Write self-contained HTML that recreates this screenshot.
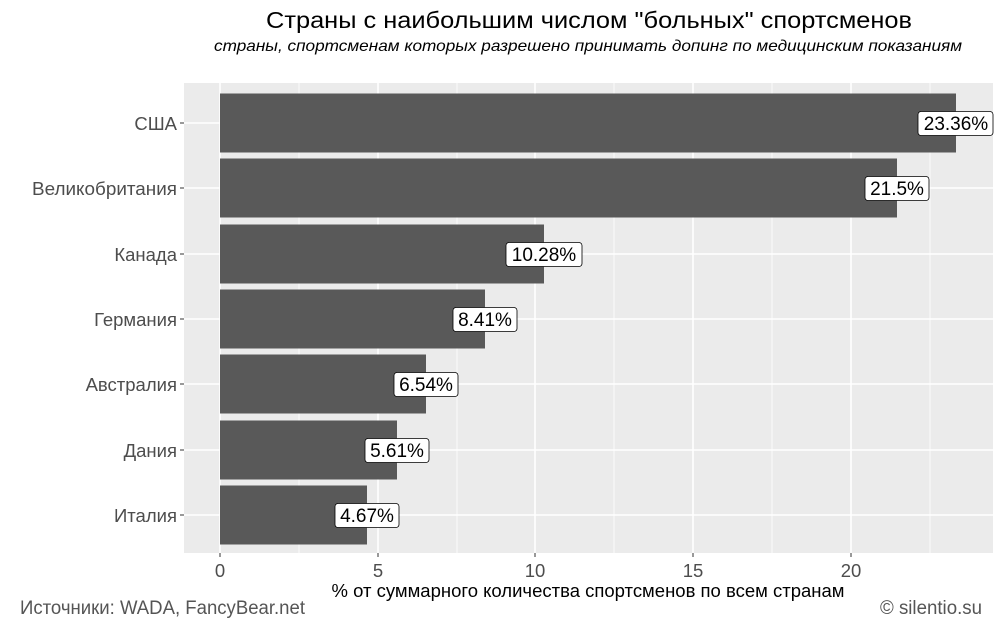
<!DOCTYPE html>
<html><head><meta charset="utf-8"><style>body{margin:0;background:#fff}svg{display:block}</style></head>
<body>
<svg width="1000" height="625" xmlns="http://www.w3.org/2000/svg" font-family="Liberation Sans, DejaVu Sans, sans-serif">
<rect width="1000" height="625" fill="#fff"/>
<text x="589" y="28" text-anchor="middle" font-size="23" textLength="646" lengthAdjust="spacingAndGlyphs" fill="#000">Страны с наибольшим числом "больных" спортсменов</text>
<text x="588" y="51" text-anchor="middle" font-size="16" font-style="italic" textLength="748" lengthAdjust="spacingAndGlyphs" fill="#000">страны, спортсменам которых разрешено принимать допинг по медицинским показаниям</text>
<rect x="184" y="83" width="809" height="470" fill="#ebebeb"/>
<g stroke="#fff" stroke-width="0.8">
<line x1="299" y1="83" x2="299" y2="553"/><line x1="457" y1="83" x2="457" y2="553"/><line x1="614" y1="83" x2="614" y2="553"/><line x1="772" y1="83" x2="772" y2="553"/><line x1="930" y1="83" x2="930" y2="553"/>
</g>
<g stroke="#fff" stroke-width="1.6">
<line x1="220" y1="83" x2="220" y2="553"/><line x1="378" y1="83" x2="378" y2="553"/><line x1="535" y1="83" x2="535" y2="553"/><line x1="693" y1="83" x2="693" y2="553"/><line x1="851" y1="83" x2="851" y2="553"/>
<line x1="184" y1="123" x2="993" y2="123"/><line x1="184" y1="188" x2="993" y2="188"/><line x1="184" y1="254" x2="993" y2="254"/><line x1="184" y1="319" x2="993" y2="319"/><line x1="184" y1="384" x2="993" y2="384"/><line x1="184" y1="450" x2="993" y2="450"/><line x1="184" y1="515" x2="993" y2="515"/>
</g>
<g fill="#595959">
<rect x="220" y="93.5" width="736" height="59"/>
<rect x="220" y="158.5" width="677" height="59"/>
<rect x="220" y="224.5" width="324" height="59"/>
<rect x="220" y="289.5" width="265" height="59"/>
<rect x="220" y="354.5" width="206" height="59"/>
<rect x="220" y="420.5" width="177" height="59"/>
<rect x="220" y="485.5" width="147" height="59"/>
</g>
<g font-size="19" fill="#000" text-anchor="middle">
<rect x="918" y="111.5" width="75" height="24" rx="3" fill="#fff" stroke="#000" stroke-width="0.8"/><text x="956" y="130">23.36%</text>
<rect x="865" y="176.5" width="64" height="24" rx="3" fill="#fff" stroke="#000" stroke-width="0.8"/><text x="897" y="195">21.5%</text>
<rect x="506" y="242.5" width="76" height="24" rx="3" fill="#fff" stroke="#000" stroke-width="0.8"/><text x="544" y="261">10.28%</text>
<rect x="453" y="307.5" width="64" height="24" rx="3" fill="#fff" stroke="#000" stroke-width="0.8"/><text x="485" y="326">8.41%</text>
<rect x="394" y="372.5" width="64" height="24" rx="3" fill="#fff" stroke="#000" stroke-width="0.8"/><text x="426" y="391">6.54%</text>
<rect x="365" y="438.5" width="64" height="24" rx="3" fill="#fff" stroke="#000" stroke-width="0.8"/><text x="397" y="457">5.61%</text>
<rect x="335" y="503.5" width="64" height="24" rx="3" fill="#fff" stroke="#000" stroke-width="0.8"/><text x="367" y="522">4.67%</text>
</g>
<g stroke="#333" stroke-width="1">
<line x1="180" y1="123" x2="184" y2="123"/><line x1="180" y1="188" x2="184" y2="188"/><line x1="180" y1="254" x2="184" y2="254"/><line x1="180" y1="319" x2="184" y2="319"/><line x1="180" y1="384" x2="184" y2="384"/><line x1="180" y1="450" x2="184" y2="450"/><line x1="180" y1="515" x2="184" y2="515"/>
<line x1="220" y1="553" x2="220" y2="557"/><line x1="378" y1="553" x2="378" y2="557"/><line x1="535" y1="553" x2="535" y2="557"/><line x1="693" y1="553" x2="693" y2="557"/><line x1="851" y1="553" x2="851" y2="557"/>
</g>
<g font-size="18.5" fill="#4d4d4d" text-anchor="end">
<text x="177" y="130">США</text><text x="177" y="195" textLength="145" lengthAdjust="spacingAndGlyphs">Великобритания</text><text x="177" y="261">Канада</text><text x="177" y="326">Германия</text><text x="177" y="391">Австралия</text><text x="177" y="457">Дания</text><text x="177" y="522">Италия</text>
</g>
<g font-size="18.5" fill="#4d4d4d" text-anchor="middle">
<text x="220" y="577">0</text><text x="378" y="577">5</text><text x="535" y="577">10</text><text x="693" y="577">15</text><text x="851" y="577">20</text>
</g>
<text x="588" y="597" text-anchor="middle" font-size="18" fill="#000" textLength="513" lengthAdjust="spacingAndGlyphs">% от суммарного количества спортсменов по всем странам</text>
<text x="20" y="614" font-size="19" fill="#555" textLength="285" lengthAdjust="spacingAndGlyphs">Источники: WADA, FancyBear.net</text>
<text x="982" y="614" text-anchor="end" font-size="19" fill="#555" textLength="102" lengthAdjust="spacingAndGlyphs">© silentio.su</text>
</svg>
</body></html>
